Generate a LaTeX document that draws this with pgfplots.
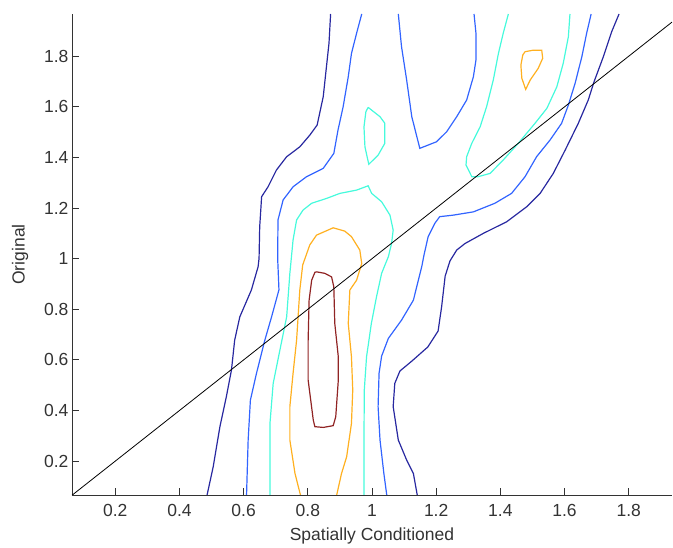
\documentclass[border=0pt]{standalone}
\usepackage{fontspec}
\setmainfont{Liberation Sans}
\usepackage{pgfplots}
\pgfplotsset{compat=1.18}

\definecolor{cnavy}{RGB}{40,40,160}
\definecolor{cblue}{RGB}{50,100,255}
\definecolor{ccyan}{RGB}{70,250,220}
\definecolor{corange}{RGB}{255,176,32}
\definecolor{cred}{RGB}{144,36,36}

\begin{document}
\begin{tikzpicture}
\begin{axis}[%
scale only axis,
width=600pt, height=481pt,
xmin=0.065, xmax=1.935,
ymin=0.066, ymax=1.967,
axis x line=bottom, axis y line=left,
axis line style={-, line width=0.9pt, black!80},
xtick={0.2,0.4,...,1.8},
ytick={0.2,0.4,...,1.8},
tick align=inside,
major tick length=7pt,
tick style={black!80, line width=0.9pt},
/pgf/number format/assume math mode=true,
tick label style={font=\fontsize{17.5}{20}\selectfont, text=black!80},
xticklabel style={yshift=-6pt},
xlabel={Spatially Conditioned},
ylabel={Original},
every axis x label/.style={at={([yshift=-41pt]axis description cs:0.5,0)}, anchor=center,
  font=\fontsize{17.5}{20}\selectfont, text=black!80},
every axis y label/.style={at={([xshift=-52pt]axis description cs:0,0.5)}, rotate=90, anchor=center,
  font=\fontsize{17.5}{20}\selectfont, text=black!80},
every axis plot/.append style={line width=1.2pt, mark=none},
]
% navy, left
\addplot[cnavy] coordinates {
(0.871,1.967) (0.866,1.852) (0.858,1.758) (0.848,1.640) (0.829,1.528)
(0.806,1.488) (0.775,1.442) (0.734,1.403) (0.702,1.350) (0.676,1.284)
(0.656,1.245) (0.650,1.126) (0.648,1.001) (0.645,0.968) (0.624,0.876)
(0.588,0.770) (0.572,0.678) (0.562,0.560) (0.546,0.454) (0.526,0.336)
(0.505,0.177) (0.486,0.066)};
% navy, right
\addplot[cnavy] coordinates {
(1.770,1.967) (1.747,1.897) (1.721,1.798) (1.692,1.699) (1.674,1.627)
(1.643,1.535) (1.602,1.429) (1.565,1.337) (1.524,1.258) (1.482,1.205)
(1.420,1.146) (1.347,1.100) (1.290,1.060) (1.264,1.034) (1.243,0.991)
(1.228,0.931) (1.217,0.810) (1.206,0.714) (1.174,0.651) (1.124,0.595)
(1.087,0.556) (1.071,0.507) (1.066,0.415) (1.082,0.283) (1.108,0.204)
(1.129,0.151) (1.141,0.066)};
% blue, left
\addplot[cblue] coordinates {
(0.968,1.967) (0.952,1.891) (0.936,1.811) (0.926,1.719) (0.910,1.600)
(0.894,1.508) (0.881,1.416) (0.848,1.357) (0.796,1.324) (0.754,1.284)
(0.723,1.232) (0.707,1.153) (0.706,1.001) (0.710,0.877) (0.687,0.770)
(0.666,0.678) (0.640,0.547) (0.621,0.441) (0.614,0.283) (0.609,0.066)};
% blue, upper middle
\addplot[cblue] coordinates {
(1.082,1.967) (1.092,1.838) (1.108,1.706) (1.124,1.561) (1.149,1.436)
(1.201,1.462) (1.233,1.502) (1.264,1.561) (1.295,1.627) (1.316,1.719)
(1.324,1.785) (1.324,1.891) (1.318,1.967)};
% blue, right
\addplot[cblue] coordinates {
(1.683,1.967) (1.669,1.891) (1.654,1.798) (1.633,1.693) (1.612,1.607)
(1.591,1.535) (1.555,1.469) (1.513,1.403) (1.477,1.324) (1.435,1.258)
(1.383,1.219) (1.316,1.185) (1.253,1.172) (1.211,1.166) (1.196,1.140)
(1.175,1.087) (1.162,1.014) (1.155,0.968) (1.129,0.836) (1.092,0.757)
(1.051,0.685) (1.030,0.615) (1.022,0.547) (1.019,0.415) (1.025,0.283)
(1.037,0.151) (1.046,0.066)};
% cyan, main
\addplot[ccyan] coordinates {
(0.682,0.066) (0.682,0.349) (0.692,0.507) (0.713,0.639) (0.734,0.770)
(0.744,0.942) (0.754,1.074) (0.765,1.153) (0.785,1.192) (0.812,1.219)
(0.858,1.238) (0.900,1.258) (0.952,1.271) (0.988,1.288) (0.999,1.258)
(1.030,1.225) (1.056,1.172) (1.066,1.113) (1.061,1.060) (1.051,1.008)
(1.030,0.942) (1.014,0.849) (0.998,0.744) (0.983,0.612) (0.976,0.481)
(0.975,0.283) (0.975,0.066)};
% cyan, small loop
\addplot[ccyan] coordinates {
(0.988,1.598) (1.025,1.561) (1.040,1.535) (1.040,1.456) (1.019,1.409)
(0.990,1.373) (0.978,1.442) (0.975,1.521) (0.981,1.581) (0.988,1.598)};
% cyan, right
\addplot[ccyan] coordinates {
(1.425,1.967) (1.409,1.891) (1.394,1.811) (1.378,1.706) (1.357,1.600)
(1.337,1.521) (1.311,1.456) (1.295,1.403) (1.293,1.370) (1.311,1.324)
(1.331,1.324) (1.368,1.337) (1.409,1.390) (1.456,1.456) (1.508,1.535)
(1.545,1.594) (1.576,1.679) (1.596,1.772) (1.612,1.877) (1.617,1.967)};
% orange, main
\addplot[corange] coordinates {
(0.777,0.066) (0.760,0.151) (0.744,0.283) (0.744,0.415) (0.754,0.547)
(0.765,0.678) (0.775,0.876) (0.784,0.975) (0.806,1.054) (0.827,1.093)
(0.879,1.122) (0.915,1.109) (0.936,1.087) (0.962,1.034) (0.968,0.981)
(0.952,0.915) (0.931,0.876) (0.926,0.744) (0.936,0.612) (0.940,0.481)
(0.936,0.349) (0.921,0.217) (0.905,0.151) (0.890,0.066)};
% orange, small loop
\addplot[corange] coordinates {
(1.477,1.818) (1.503,1.824) (1.529,1.824) (1.532,1.792) (1.518,1.752)
(1.493,1.706) (1.479,1.669) (1.467,1.713) (1.464,1.765) (1.470,1.805)
(1.477,1.818)};
% dark red
\addplot[cred] coordinates {
(0.827,0.948) (0.853,0.942) (0.874,0.928) (0.881,0.889) (0.884,0.744)
(0.895,0.612) (0.895,0.520) (0.887,0.375) (0.879,0.340) (0.848,0.333)
(0.822,0.336) (0.817,0.362) (0.801,0.520) (0.801,0.678) (0.804,0.836)
(0.812,0.915) (0.822,0.946) (0.827,0.948)};
% y = x
\addplot[black, line width=0.8pt] coordinates {(0.065,0.065) (1.935,1.935)};
\end{axis}
\pgfresetboundingbox
\path (current axis.south west) ++(-72pt,-53pt) rectangle (current axis.north east) ++(1pt,14pt);
\end{tikzpicture}
\end{document}
